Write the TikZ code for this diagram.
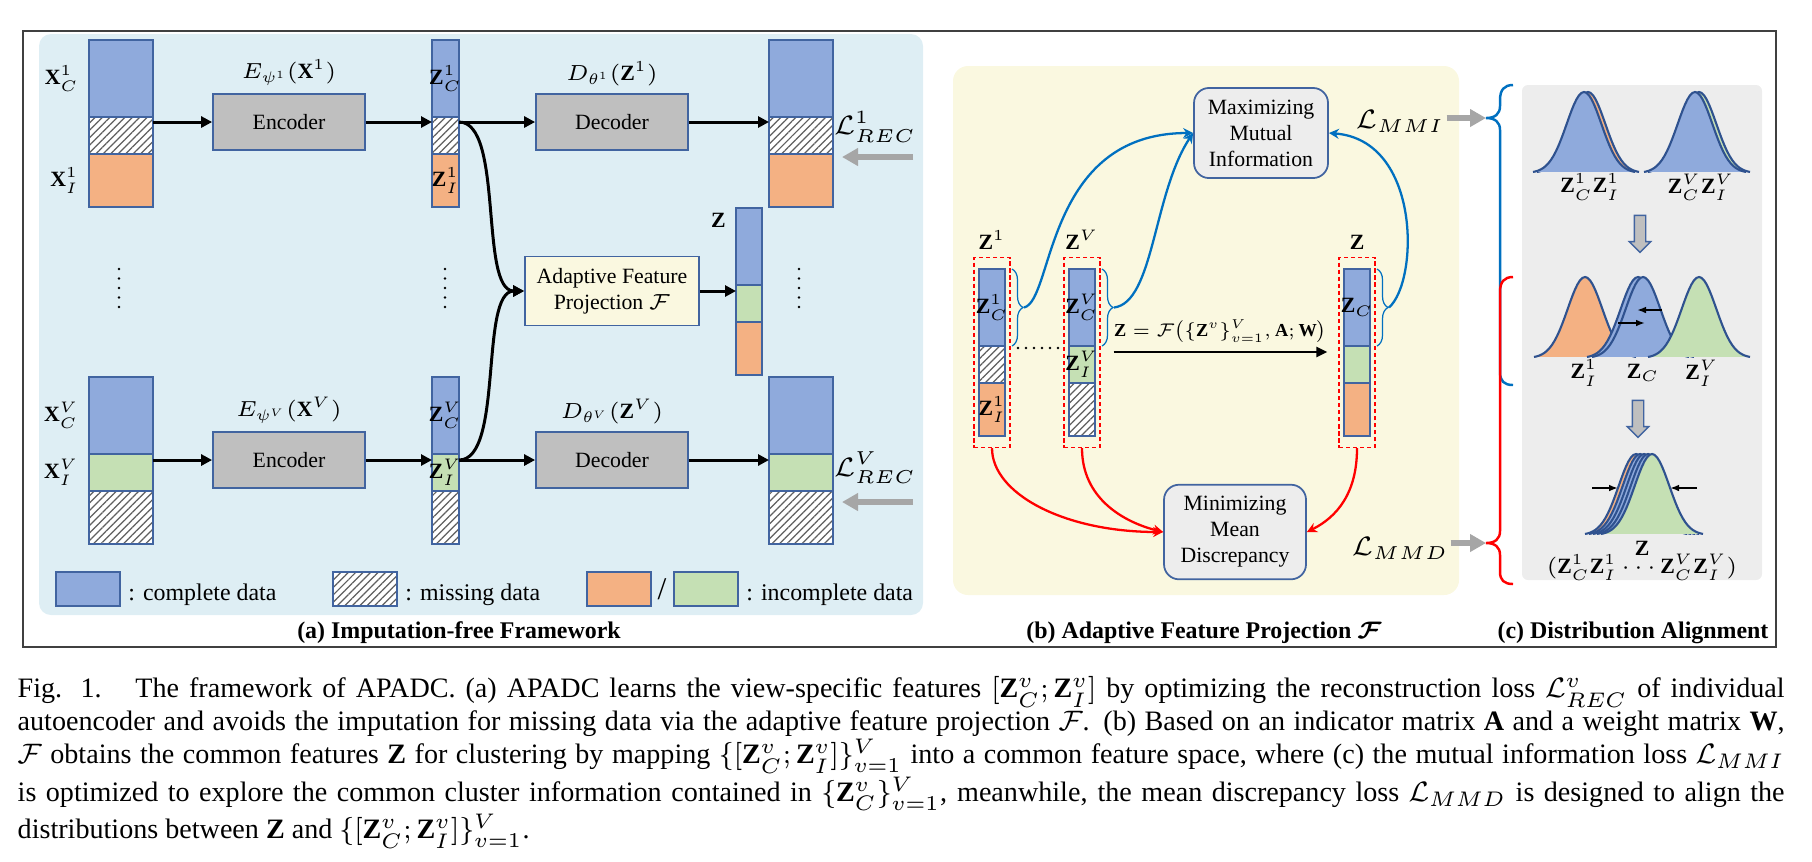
\documentclass[tikz,border=0pt]{standalone}
\usepackage{fix-cm}
\usepackage{fontspec}
\setmainfont{Liberation Serif}
\usepackage{amsmath,amssymb}
\usetikzlibrary{positioning,arrows.meta,patterns.meta,shapes.arrows,decorations.pathreplacing,fit}

\definecolor{cplblue}{RGB}{143,170,220}
\definecolor{incorange}{RGB}{244,177,131}
\definecolor{incgreen}{RGB}{197,224,180}
\definecolor{boxline}{RGB}{65,100,160}
\definecolor{bellline}{RGB}{47,82,143}
\definecolor{panela}{RGB}{222,238,244}
\definecolor{panelb}{RGB}{250,248,224}
\definecolor{panelc}{RGB}{237,237,237}
\definecolor{coder}{RGB}{191,191,191}
\definecolor{mmiblue}{RGB}{0,112,192}
\definecolor{lossgrey}{RGB}{166,166,166}
\definecolor{hatch}{RGB}{95,95,95}

\newcommand*{\figfont}{\fontsize{6.2}{7.4}\selectfont}
\newcommand*{\mathsz}{\fontsize{6.2}{7.2}\selectfont}
\newcommand*{\losssz}{\fontsize{7.6}{9}\selectfont}

\tikzset{%
  seg/.style={draw=boxline, line width=0.5pt, inner sep=0pt, outer sep=0pt, anchor=north west},% one part of a feature column
  cpl/.style={seg, fill=cplblue},% complete data
  mis/.style={seg, preaction={fill=white}, pattern={Lines[angle=45,distance=1.5pt,line width=0.35pt]}, pattern color=hatch},% missing data
  inco/.style={seg, fill=incorange},% incomplete data, view 1
  incg/.style={seg, fill=incgreen},% incomplete data, view V
  coderbox/.style={draw=boxline, line width=0.5pt, fill=coder, minimum width=15.2mm, minimum height=5.6mm, font=\figfont},
  lossbox/.style={draw=boxline, line width=0.5pt, fill=panelc, rounded corners=1.5mm, align=center, font=\figfont},
  lab/.style={inner sep=0.5pt, font=\mathsz},
  legtext/.style={inner sep=0.5pt, anchor=base west, font=\fontsize{6.8}{8}\selectfont},
  flow/.style={line width=0.85pt, -{Triangle[length=1.1mm,width=1.1mm]}},% black arrows
  lossarr/.style={draw=lossgrey, line width=1.7pt, -{Triangle[length=1.6mm,width=1.7mm]}},% grey loss arrows
  mmiline/.style={draw=mmiblue, line width=0.65pt, -{Stealth[length=1mm,width=1mm]}},
  mmdline/.style={draw=red, line width=0.65pt, -{Stealth[length=1mm,width=1mm]}},
  brc/.style={draw=mmiblue, line width=0.35pt, decorate, decoration={brace, amplitude=1.1mm}},
  dbox/.style={draw=red, line width=0.4pt, dash pattern=on 1.2pt off 0.8pt, inner xsep=0.5mm, inner ysep=1.15mm},
  downarr/.style={single arrow, draw=boxline, fill=coder, rotate=-90, minimum height=3.7mm, inner xsep=0pt, inner ysep=0.5mm, single arrow head extend=0.5mm, single arrow head indent=0pt},
  ptitle/.style={font=\fontsize{6.8}{8}\selectfont\bfseries}
}

% feature column: name, x, y, width, styles of the three parts
\newcommand*{\featcol}[7]{%
  \node[#5, minimum width=#4, minimum height=7.7mm] (#1a) at (#2,#3) {};
  \node[#6, minimum width=#4, minimum height=3.7mm, below=0pt of #1a] (#1b) {};
  \node[#7, minimum width=#4, minimum height=5.3mm, below=0pt of #1b] (#1c) {};
}
% bell curve: centre, base, fill
\newcommand*{\bell}[3]{%
  \fill[#3] plot[domain=-51:51, samples=41] ({#1+\x}, {#2-81*exp(-((\x)*(\x))/600)}) -- cycle;
  \draw[bellline, line width=0.6pt] plot[domain=-51:51, samples=41] ({#1+\x}, {#2-81*exp(-((\x)*(\x))/600)});
}

\begin{document}
\begin{tikzpicture}[x=0.1mm, y=-0.1mm]
\useasboundingbox (0,0) rectangle (1812,861);
\draw[line width=0.6pt, black!75] (23,31) rectangle (1776,647);

% panels
\fill[panela, rounded corners=1.2mm] (39,34) rectangle (923,615);
\fill[panelb, rounded corners=1.5mm] (953,66) rectangle (1459,595);
\fill[panelc, rounded corners=0.6mm] (1522,85) rectangle (1762,580);

%% (a) imputation-free framework
\featcol{xo}{89}{40}{6.4mm}{cpl}{mis}{inco}
\featcol{zo}{432}{40}{2.7mm}{cpl}{mis}{inco}
\featcol{ro}{769}{40}{6.4mm}{cpl}{mis}{inco}
\featcol{xv}{89}{377}{6.4mm}{cpl}{incg}{mis}
\featcol{zv}{432}{377}{2.7mm}{cpl}{incg}{mis}
\featcol{rv}{769}{377}{6.4mm}{cpl}{incg}{mis}
\featcol{zz}{736}{208}{2.6mm}{cpl}{incg}{inco}

\node[lab, left=0.8mm of xoa] (xoal) {$\mathbf{X}^1_C$};
\node[lab, left=0.8mm of xoc] (xocl) {$\mathbf{X}^1_I$};
\node[lab, left=0.8mm of xva] (xval) {$\mathbf{X}^V_C$};
\node[lab, left=0.8mm of xvb] (xvbl) {$\mathbf{X}^V_I$};
\node[lab] (zoal) at (zoa) {$\mathbf{Z}^1_C$};
\node[lab] (zocl) at (zoc) {$\mathbf{Z}^1_I$};
\node[lab] (zval) at (zva) {$\mathbf{Z}^V_C$};
\node[lab] (zvbl) at (zvb) {$\mathbf{Z}^V_I$};
\node[lab, anchor=north east] (zzl) at ([xshift=-0.8mm, yshift=-0.3mm]zza.north west) {$\mathbf{Z}$};

\node[coderbox] (enco) at (289,122) {Encoder};
\node[coderbox] (deco) at (612,122) {Decoder};
\node[coderbox] (encv) at (289,460) {Encoder};
\node[coderbox] (decv) at (612,460) {Decoder};
\node[coderbox, fill=panelb, align=center] (afp) at (612,291) {Adaptive Feature\\Projection $\mathcal{F}$};

\node[lab, above=0.5mm of enco] (encol) {$E_{\psi^1}(\mathbf{X}^1)$};
\node[lab, above=0.5mm of deco] (decol) {$D_{\theta^1}(\mathbf{Z}^1)$};
\node[lab, above=0.5mm of encv] (encvl) {$E_{\psi^V}(\mathbf{X}^V)$};
\node[lab, above=0.5mm of decv] (decvl) {$D_{\theta^V}(\mathbf{Z}^V)$};

\draw[flow] (xob.east |- enco.west) -- (enco.west);
\draw[flow] (enco.east) -- (zob.west |- enco.east);
\draw[flow] (zob.east |- deco.west) -- (deco.west);
\draw[flow] (deco.east) -- (rob.west |- deco.east);
\draw[flow] (xvb.east |- encv.west) -- (encv.west);
\draw[flow] (encv.east) -- (zvb.west |- encv.east);
\draw[flow] (zvb.east |- decv.west) -- (decv.west);
\draw[flow] (decv.east) -- (rvb.west |- decv.east);
\draw[flow] (zob.east |- deco.west) .. controls +(45,0) and +(-45,0) .. (afp.west);
\draw[flow] (zvb.east |- decv.west) .. controls +(45,0) and +(-45,0) .. (afp.west);
\draw[flow] (afp.east) -- (zzb.west |- afp.east);

\foreach \cx in {119,445,799}
  \foreach \d in {0,...,4}
    \fill (\cx,{269+9.5*\d}) circle (0.14mm);

\node[lab, font=\losssz] (reco) at (875,127) {$\mathcal{L}^1_{REC}$};
\node[lab, font=\losssz] (recv) at (875,468) {$\mathcal{L}^V_{REC}$};
\coordinate (recoe) at (913,157);
\coordinate (recve) at (913,502);
\draw[lossarr, shorten >=0.9mm] (recoe) -- (roc.east |- recoe);
\draw[lossarr, shorten >=0.9mm] (recve) -- (rvc.east |- recve);

% legend
\node[cpl, minimum width=6.4mm, minimum height=3.4mm] (lgc) at (56,572) {};
\node[legtext] (lgct) at ([xshift=0.6mm, yshift=0.6mm]lgc.south east) {: complete data};
\node[mis, minimum width=6.4mm, minimum height=3.4mm] (lgm) at (333,572) {};
\node[legtext] (lgmt) at ([xshift=0.6mm, yshift=0.6mm]lgm.south east) {: missing data};
\node[inco, minimum width=6.4mm, minimum height=3.4mm] (lgo) at (587,572) {};
\node[lab, font=\fontsize{9}{10}\selectfont] (lgsl) at (662,589) {/};
\node[incg, minimum width=6.4mm, minimum height=3.4mm] (lgg) at (674,572) {};
\node[legtext] (lggt) at ([xshift=0.6mm, yshift=0.6mm]lgg.south east) {: incomplete data};

%% (b) adaptive feature projection
\featcol{bo}{979}{269}{2.6mm}{cpl}{mis}{inco}
\featcol{bv}{1069}{269}{2.6mm}{cpl}{incg}{mis}
\featcol{bz}{1344}{269}{2.6mm}{cpl}{incg}{inco}
\node[dbox, fit=(boa)(boc)] (bobox) {};
\node[dbox, fit=(bva)(bvc)] (bvbox) {};
\node[dbox, fit=(bza)(bzc)] (bzbox) {};
\node[lab, above=0.5mm of bobox] (bol) {$\mathbf{Z}^1$};
\node[lab, above=0.5mm of bvbox] (bvl) {$\mathbf{Z}^V$};
\node[lab, above=0.5mm of bzbox] (bzl) {$\mathbf{Z}$};
\node[lab] (boal) at (boa) {$\mathbf{Z}^1_C$};
\node[lab] (bocl) at (boc) {$\mathbf{Z}^1_I$};
\node[lab] (bval) at (bva) {$\mathbf{Z}^V_C$};
\node[lab] (bvbl) at (bvb) {$\mathbf{Z}^V_I$};
\node[lab] (bzal) at (bza) {$\mathbf{Z}_C$};

\foreach \d in {0,...,5}
  \fill ({1018+8*\d},348) circle (0.14mm);

\draw[brc] ([xshift=0.7mm]boa.north east) -- ([xshift=0.7mm]boa.south east) coordinate[midway, xshift=1.2mm] (botip);
\draw[brc] ([xshift=0.7mm]bva.north east) -- ([xshift=0.7mm]bva.south east) coordinate[midway, xshift=1.2mm] (bvtip);
\draw[brc] ([xshift=0.7mm]bza.north east) -- ([xshift=0.7mm]bza.south east) coordinate[midway, xshift=1.2mm] (bztip);

\draw[line width=0.75pt, -{Triangle[length=1.1mm,width=1mm]}] ([xshift=1.3mm, yshift=-0.6mm]bvbox.east |- bva.south) -- ([xshift=-1.1mm, yshift=-0.6mm]bzbox.west |- bva.south) node[midway, above=0.7mm, lab, scale=0.84] (form) {$\mathbf{Z}=\mathcal{F}\big(\{\mathbf{Z}^v\}^V_{v=1},\mathbf{A};\mathbf{W}\big)$};

\node[lossbox, minimum width=13.4mm, minimum height=9mm] (mmi) at (1261,133) {Maximizing\\Mutual\\Information};
\node[lossbox, minimum width=14.2mm, minimum height=8.4mm] (mmd) at (1235,532) {Minimizing\\Mean\\Discrepancy};

\draw[mmiline] (botip) .. controls +(30,-7) and +(-149,0) .. (mmi.west);
\draw[mmiline] (bvtip) .. controls +(40,-5) and +(-40,60) .. (mmi.west);
\draw[mmiline] (bztip) .. controls +(30,-27) and +(92,7) .. (mmi.east);
\draw[mmdline] (bobox.south) .. controls +(0,45) and +(-100,0) .. (mmd.west);
\draw[mmdline] (bvbox.south) .. controls +(0,50) and +(-40,-10) .. (mmd.west);
\draw[mmdline] (bzbox.south) .. controls +(0,45) and +(30,-15) .. (mmd.east);

\node[lab, font=\losssz] (lmmi) at (1400,121) {$\mathcal{L}_{MMI}$};
\node[lab, font=\losssz] (lmmd) at (1400,548) {$\mathcal{L}_{MMD}$};
\coordinate (bmmi) at (1486,118);
\coordinate (bmmd) at (1486,543);
\draw[lossarr] (lmmi.east |- bmmi) -- (bmmi);
\draw[lossarr] (lmmd.east |- bmmd) -- (bmmd);

% big braces
\draw[mmiblue, line width=0.7pt] (1513,85) .. controls (1504,85) and (1500,90) .. (1500,100) -- (1500,106)
  .. controls (1500,114) and (1495,118) .. (bmmi) .. controls (1495,118) and (1500,122) .. (1500,130)
  -- (1500,372) .. controls (1500,381) and (1504,385) .. (1513,385);
\draw[red, line width=0.7pt] (1513,277) .. controls (1504,277) and (1500,282) .. (1500,292) -- (1500,531)
  .. controls (1500,539) and (1495,543) .. (bmmd) .. controls (1495,543) and (1500,547) .. (1500,555)
  -- (1500,572) .. controls (1500,580) and (1504,584) .. (1513,584);

%% (c) distribution alignment
\bell{1588}{173}{incorange}
\bell{1584}{173}{cplblue}
\bell{1699}{173}{incgreen}
\bell{1695}{173}{cplblue}
\node[lab] (dzo) at (1590,187) {$\mathbf{Z}^1_C\mathbf{Z}^1_I$};
\node[lab] (dzv) at (1701,187) {$\mathbf{Z}^V_C\mathbf{Z}^V_I$};
\node[downarr] (dna) at (1640,231) {};

\bell{1585}{358}{incorange}
\bell{1638}{358}{cplblue}
\bell{1643}{358}{cplblue}
\bell{1699}{358}{incgreen}
\draw[line width=0.6pt, -{Latex[length=0.9mm]}] (1662,310) -- (1637,310);
\draw[line width=0.6pt, -{Latex[length=0.9mm]}] (1618,323) -- (1645,323);
\node[lab] (dio) at (1584,373) {$\mathbf{Z}^1_I$};
\node[lab] (dc) at (1643,373) {$\mathbf{Z}_C$};
\node[lab] (div) at (1702,373) {$\mathbf{Z}^V_I$};
\node[downarr] (dnb) at (1638,416) {};

\bell{1636}{535}{incorange}
\bell{1640}{535}{cplblue}
\bell{1644}{535}{cplblue}
\bell{1648}{535}{cplblue}
\bell{1652}{535}{incgreen}
\draw[line width=0.6pt, -{Latex[length=0.9mm]}] (1592,488) -- (1618,488);
\draw[line width=0.6pt, -{Latex[length=0.9mm]}] (1697,488) -- (1670,488);
\node[lab] (dz) at (1642,548) {$\mathbf{Z}$};
\node[lab] (dzall) at (1642,567) {$(\mathbf{Z}^1_C\mathbf{Z}^1_I\cdots\mathbf{Z}^V_C\mathbf{Z}^V_I)$};

% panel titles
\node[ptitle] (ta) at (459,633) {(a) Imputation-free Framework};
\node[ptitle] (tb) at (1204,633) {(b) Adaptive Feature Projection $\boldsymbol{\mathcal{F}}$};
\node[ptitle] (tc) at (1633,633) {(c) Distribution Alignment};

% caption
\node[anchor=north west, align=left, inner sep=0pt, font=\fontsize{8}{9.4}\selectfont] (cap) at (17,676) {%
\hbox to 176.7mm{Fig. 1.\hspace{1.2em}The framework of APADC. (a) APADC learns the view-specific features $[\mathbf{Z}^v_C;\mathbf{Z}^v_I]$ by optimizing the reconstruction loss $\mathcal{L}^v_{REC}$ of individual}\\
\hbox to 176.7mm{autoencoder and avoids the imputation for missing data via the adaptive feature projection $\mathcal{F}$. (b) Based on an indicator matrix $\mathbf{A}$ and a weight matrix $\mathbf{W}$,}\\
\hbox to 176.7mm{$\mathcal{F}$ obtains the common features $\mathbf{Z}$ for clustering by mapping $\{[\mathbf{Z}^v_C;\mathbf{Z}^v_I]\}^V_{v=1}$ into a common feature space, where (c) the mutual information loss $\mathcal{L}_{MMI}$}\\
\hbox to 176.7mm{is optimized to explore the common cluster information contained in $\{\mathbf{Z}^v_C\}^V_{v=1}$, meanwhile, the mean discrepancy loss $\mathcal{L}_{MMD}$ is designed to align the}\\
distributions between $\mathbf{Z}$ and $\{[\mathbf{Z}^v_C;\mathbf{Z}^v_I]\}^V_{v=1}$.};
\end{tikzpicture}
\end{document}
